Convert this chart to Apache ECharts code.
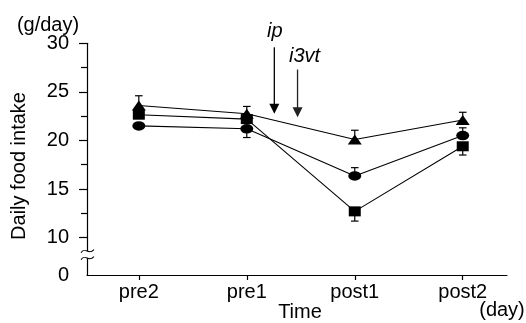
<!DOCTYPE html>
<html>
<head>
<meta charset="utf-8">
<script src="https://cdn.jsdelivr.net/npm/echarts@6/dist/echarts.min.js"></script>
<style>
  html, body { margin: 0; padding: 0; background: #fff; }
  #chart { width: 526px; height: 323px; }
</style>
</head>
<body>
<div id="chart"></div>
<script>
// Time points
const categories = ['pre2', 'pre1', 'post1', 'post2'];

// Group means (g/day) and one-sided SEM (positive = drawn up, negative = drawn down)
const triangleMean = [23.6, 22.75, 20.1, 22.1];
const triangleErr = [1.0, 0.75, 0.95, 0.8];
const squareMean = [22.65, 22.2, 12.7, 19.4];
const squareErr = [0, 0, -1.0, -0.9];
const circleMean = [21.5, 21.2, 16.35, 20.5];
const circleErr = [0, -0.9, 0.85, 0.8];

// Axis ticks
const yMajorTicks = [10, 15, 20, 25, 30];
const yMinorTicks = [12.5, 17.5, 22.5, 27.5];
const yBreakBottom = 6.15;   // bottom of the broken axis, labelled 0
const xTicks = [0, 1, 2, 3];

// Injection markers (x in category units, y range in g/day)
const injections = [
  { label: 'ip', x: 1.255, top: 29.6, tip: 22.75, dx: 0.5, dy: -15.6, color: '#000' },
  { label: 'i3vt', x: 1.47, top: 27.3, tip: 22.4, dx: 7, dy: -12.6, color: '#222' }
];

const FONT = '"Liberation Sans", Arial, sans-serif';
const chart = echarts.init(document.getElementById('chart'), null, { renderer: 'canvas' });

function pairs(means, errs) {
  return means.map((m, i) => [i, m, errs ? errs[i] : 0]);
}

function errorSeries(means, errs) {
  return {
    type: 'custom',
    z: 1,
    silent: true,
    data: pairs(means, errs),
    renderItem(params, api) {
      const x = api.value(0), m = api.value(1), e = api.value(2);
      if (!e) return { type: 'group', children: [] };
      const p0 = api.coord([x, m]);
      const p1 = api.coord([x, m + e]);
      const hw = 3.8;
      const st = { stroke: '#000', lineWidth: 1.2 };
      return {
        type: 'group',
        children: [
          { type: 'line', shape: { x1: p0[0], y1: p0[1], x2: p1[0], y2: p1[1] }, style: st },
          { type: 'line', shape: { x1: p1[0] - hw, y1: p1[1], x2: p1[0] + hw, y2: p1[1] }, style: st }
        ]
      };
    }
  };
}

function lineSeries(means, symbol, size) {
  return {
    type: 'line',
    z: 3,
    data: pairs(means).map(d => [d[0], d[1]]),
    symbol: symbol,
    symbolSize: size,
    showSymbol: true,
    itemStyle: { color: '#000', borderWidth: 0 },
    lineStyle: { color: '#000', width: 1.1 },
    emphasis: { disabled: true }
  };
}

const option = {
  animation: false,
  backgroundColor: '#fff',
  grid: { left: 87, right: 19, top: 43.3, bottom: 48 },
  xAxis: {
    type: 'value',
    min: -0.48,
    max: 3.41,
    splitLine: { show: false },
    axisLine: { onZero: false, lineStyle: { color: '#000', width: 1.2 } },
    axisTick: { customValues: xTicks, length: 5, lineStyle: { color: '#000', width: 1.2 } },
    axisLabel: {
      customValues: xTicks,
      formatter: v => categories[Math.round(v)],
      fontSize: 20, fontFamily: FONT, color: '#000', margin: 7
    }
  },
  yAxis: [
    {
      type: 'value',
      min: yBreakBottom,
      max: 30,
      position: 'left',
      splitLine: { show: false },
      axisLine: { show: true, onZero: false, lineStyle: { color: '#000', width: 1.2 } },
      axisTick: { show: true, customValues: yMajorTicks, length: 8, lineStyle: { color: '#000', width: 1.2 } },
      axisLabel: {
        customValues: [yBreakBottom].concat(yMajorTicks),
        formatter: v => (Math.abs(v - yBreakBottom) < 1e-6 ? '0' : String(v)),
        fontSize: 20, fontFamily: FONT, color: '#000', margin: 18
      }
    },
    {
      type: 'value',
      min: yBreakBottom,
      max: 30,
      position: 'left',
      offset: 0,
      splitLine: { show: false },
      axisLine: { show: false, onZero: false },
      axisTick: { show: true, customValues: yMinorTicks, length: 6, lineStyle: { color: '#000', width: 1.2 } },
      axisLabel: { show: false }
    }
  ],
  series: [
    errorSeries(triangleMean, triangleErr),
    errorSeries(squareMean, squareErr),
    errorSeries(circleMean, circleErr),
    lineSeries(circleMean, 'circle', [13, 9.5]),
    lineSeries(squareMean, 'rect', [12, 10]),
    lineSeries(triangleMean, 'triangle', [14, 10])
  ]
};

chart.setOption(option);

// Annotations: axis break, injection arrows and axis captions
const graphics = [];
const toPx = (x, y) => chart.convertToPixel({ gridIndex: 0 }, [x, y]);

// Axis break on the y axis
const brk = toPx(-0.48, 8.2);
const ax = brk[0];
graphics.push({
  type: 'rect', z: 100,
  shape: { x: ax - 3, y: brk[1] - 4, width: 6, height: 7 },
  style: { fill: '#fff' }
});
[-4, 3].forEach(off => {
  const cy = brk[1] + off;
  graphics.push({
    type: 'bezierCurve', z: 101,
    shape: { x1: ax - 6, y1: cy + 1.5, cpx1: ax - 1, cpy1: cy - 5, cpx2: ax + 1, cpy2: cy + 5, x2: ax + 7, y2: cy - 1.5 },
    style: { stroke: '#000', lineWidth: 1.1, fill: null }
  });
});

// Injection arrows with italic labels
injections.forEach(inj => {
  const top = toPx(inj.x, inj.top);
  const tip = toPx(inj.x, inj.tip);
  const headLen = 10, headHalf = 5;
  graphics.push({
    type: 'line', z: 100,
    shape: { x1: top[0], y1: top[1], x2: tip[0], y2: tip[1] - headLen + 1 },
    style: { stroke: inj.color, lineWidth: 1.3 }
  });
  graphics.push({
    type: 'polygon', z: 100,
    shape: { points: [[tip[0] - headHalf, tip[1] - headLen], [tip[0] + headHalf, tip[1] - headLen], [tip[0], tip[1]]] },
    style: { fill: inj.color }
  });
  graphics.push({
    type: 'text', z: 100,
    x: top[0] + inj.dx, y: top[1] + inj.dy,
    style: { text: inj.label, font: 'italic 20px ' + FONT, fill: '#000', align: 'center', verticalAlign: 'middle' }
  });
});

// Axis captions
graphics.push(
  { type: 'text', x: 48, y: 25, style: { text: '(g/day)', font: '20px ' + FONT, fill: '#000', align: 'center', verticalAlign: 'middle' } },
  { type: 'text', x: 19, y: 166, rotation: Math.PI / 2, style: { text: 'Daily food intake', font: '20px ' + FONT, fill: '#000', align: 'center', verticalAlign: 'middle' } },
  { type: 'text', x: 300, y: 312, style: { text: 'Time', font: '20px ' + FONT, fill: '#000', align: 'center', verticalAlign: 'middle' } },
  { type: 'text', x: 502, y: 310, style: { text: '(day)', font: '20px ' + FONT, fill: '#000', align: 'center', verticalAlign: 'middle' } }
);

chart.setOption({ graphic: { elements: graphics } });
</script>
</body>
</html>
